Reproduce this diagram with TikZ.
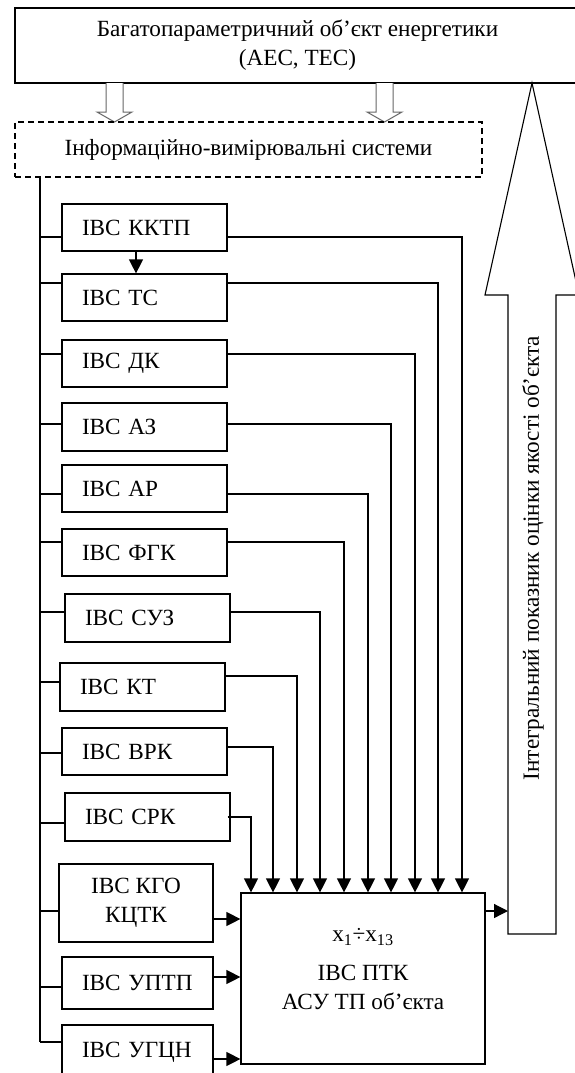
\documentclass[tikz,border=0pt]{standalone}
\usepackage{fontspec}
\setmainfont{Liberation Serif}
\usetikzlibrary{arrows.meta}
\begin{document}
\begin{tikzpicture}[x=1pt,y=-1pt,line width=1.2pt,
  txt/.style={font=\fontsize{23.2}{29}\selectfont},
  box/.style={draw,line width=1.2pt,inner ysep=0pt,txt},
  lbox/.style={box,inner xsep=20pt,text width=#1,align=left,minimum height=47pt},
  cbox/.style={box,inner sep=0pt,align=center},
  arr/.style={-{Triangle[width=14pt,length=14pt]}},
  hollow/.style={draw=black!60,line width=1pt,fill=white}]
\useasboundingbox (0,0) rectangle (574,1073);
% top object
\node[cbox,minimum width=565pt,minimum height=75pt] (obj) at (297.5,45.5)
  {Багатопараметричний об'єкт енергетики\\(АЕС, ТЕС)};
% hollow arrows
\draw[hollow] (106,83) -- (106,112) -- (97,112) -- (114.5,122) -- (132,112) -- (123,112) -- (123,83);
\draw[hollow] (376,83) -- (376,112) -- (367,112) -- (384.5,122) -- (402,112) -- (393,112) -- (393,83);
% IVS dashed box
\node[cbox,dash pattern=on 6pt off 4pt,minimum width=467pt,minimum height=55pt] (ivs) at (248.5,149.5)
  {Інформаційно-вимірювальні системи};
% big arrow
\draw[line width=1.1pt] (508,934) -- (508,295) -- (485,295) -- (532,83) -- (579,295) -- (556,295) -- (556,934) -- cycle;
\node[txt,rotate=90] (integ) at (533,558) {Інтегральний показник оцінки якості об'єкта};
% left boxes
\node[lbox=125pt] (kktp) at (144.5,227.5) {ІВС ККТП};
\node[lbox=125pt] (ts) at (144.5,297.5) {ІВС ТС};
\node[lbox=125pt] (dk) at (144.5,363.5) {ІВС ДК};
\node[lbox=125pt,minimum height=48pt] (az) at (144.5,427) {ІВС АЗ};
\node[lbox=125pt] (ar) at (144.5,488.5) {ІВС АР};
\node[lbox=125pt] (fgk) at (144.5,552.5) {ІВС ФГК};
\node[lbox=125pt,minimum height=48pt] (suz) at (147.5,618) {ІВС СУЗ};
\node[lbox=125pt,minimum height=48pt] (kt) at (142.5,687) {ІВС КТ};
\node[lbox=125pt] (vrk) at (144.5,751.5) {ІВС ВРК};
\node[lbox=125pt,minimum height=48pt] (srk) at (147.5,817) {ІВС СРК};
\node[cbox,minimum width=154pt,minimum height=78pt] (kgo) at (136,903) {ІВС КГО\\КЦТК};
\node[lbox=111pt,minimum height=52pt] (uptp) at (137.5,983) {ІВС УПТП};
\node[lbox=111pt,minimum height=55pt] (ugcn) at (137.5,1052.5) {ІВС УГЦН};
% main box
\node[draw,minimum width=244pt,minimum height=171pt,inner sep=0pt] (ptk) at (363,978.5) {};
\node[txt] (xs) at (363,937) {x\textsubscript{1}÷x\textsubscript{13}};
\node[txt,align=center] (ptktxt) at (363,987.5) {ІВС ПТК\\АСУ ТП об'єкта};
% bus
\coordinate (bustop) at (40,177);
\coordinate (busend) at (40,1042);
\draw (bustop) -- (busend);
\foreach \n/\y in {kktp/237,ts/283,dk/354,az/424,ar/494,fgk/542,suz/612,kt/682,vrk/753,srk/823,kgo/911,uptp/987,ugcn/1042}
  \draw (40,\y) -- (\n.west |- 0,\y);
% connectors to PTK top
\foreach \n/\y/\x in {kktp/237/462,ts/283/438,dk/354/415,az/424/391,ar/494/368,fgk/542/344,suz/612/320,kt/676/297,vrk/747/273}
  \draw[arr] (\n.east |- 0,\y) -| (ptk.north -| \x,0);
\draw[arr] ([xshift=-3pt]srk.east |- 0,817) -| (ptk.north -| 251,0);
% side inputs
\draw[arr] (kgo.east |- 0,919) -- (ptk.west |- 0,919);
\draw[arr] (uptp.east |- 0,977) -- (ptk.west |- 0,977);
\draw[arr] (ugcn.east |- 0,1059) -- (ptk.west |- 0,1059);
% KKTP -> TS
\draw[arr] (kktp.south -| 136,0) -- (ts.north -| 136,0);
% PTK -> integral arrow
\coordinate (shaft) at (508,911);
\draw[arr] (ptk.east |- shaft) -- (shaft);
\end{tikzpicture}
\end{document}
